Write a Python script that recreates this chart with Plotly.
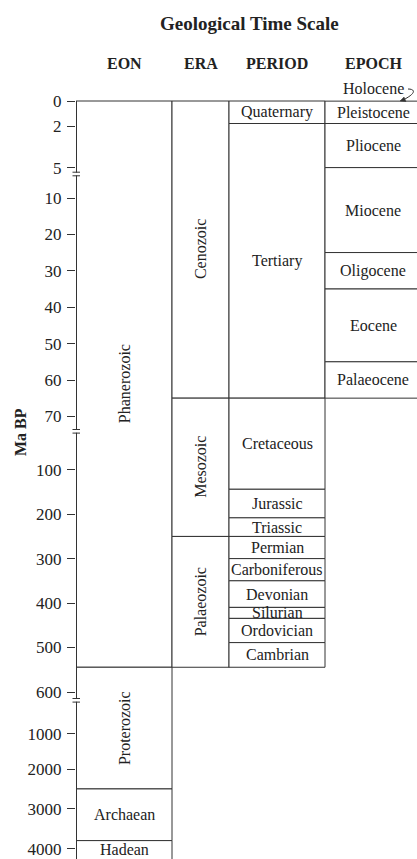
import numpy as np
import plotly.graph_objects as go

# ---------------- data (ages in Ma BP) ----------------
eon_names = ["Phanerozoic", "Proterozoic", "Archaean", "Hadean"]
eon_start = [0, 545, 2500, 3800]
eon_end = [545, 2500, 3800, 4600]

era_names = ["Cenozoic", "Mesozoic", "Palaeozoic"]
era_start = [0, 65, 250]
era_end = [65, 250, 545]

period_names = ["Quaternary", "Tertiary", "Cretaceous", "Jurassic", "Triassic",
                "Permian", "Carboniferous", "Devonian", "Silurian", "Ordovician", "Cambrian"]
period_start = [0, 1.8, 65, 144, 208, 250, 300, 350, 410, 435, 490]
period_end = [1.8, 65, 144, 208, 250, 300, 350, 410, 435, 490, 545]

epoch_names = ["Pleistocene", "Pliocene", "Miocene", "Oligocene", "Eocene", "Palaeocene"]
epoch_start = [0.01, 1.8, 5, 25, 35, 55]
epoch_end = [1.8, 5, 25, 35, 55, 65]

holocene_name = "Holocene"
holocene_start = 0
holocene_end = 0.01

tick_values = [0, 2, 5, 10, 20, 30, 40, 50, 60, 70, 100, 200, 300, 400, 500,
               600, 1000, 2000, 3000, 4000]
tick_labels = [str(v) for v in tick_values]

column_names = ["EON", "ERA", "PERIOD", "EPOCH"]

# ---------------- broken (piecewise) axis scale ----------------
SCALE_MA = tick_values
SCALE_POS = [0, 25, 66.6, 97, 133.3, 169.8, 206.2, 242.6, 279, 315.3,
             368.6, 413.3, 457.6, 502, 546, 591, 632.6, 668.3, 707.6, 747.6]
BREAK_POS = [73.0, 330.3, 599.3]


def scale(ma):
    ma = np.asarray(ma, dtype=float)
    out = np.interp(ma, SCALE_MA, SCALE_POS)
    slope = (SCALE_POS[-1] - SCALE_POS[-2]) / (SCALE_MA[-1] - SCALE_MA[-2])
    out = np.where(ma > SCALE_MA[-1], SCALE_POS[-1] + (ma - SCALE_MA[-1]) * slope, out)
    return out


# ---------------- layout constants ----------------
COL_WIDTHS = [96, 57, 96, 96]
COL_LEFT = np.concatenate([[0], np.cumsum(COL_WIDTHS)[:-1]])
COL_CENTER = COL_LEFT + np.array(COL_WIDTHS) / 2

W, H = 417, 859
ML, MT = 76, 99
PLOT_W, PLOT_H = W - ML, H - MT
Y_RANGE = [PLOT_H - 2, -2]

SERIF = "Liberation Serif, Times New Roman, serif"
INK = "#222222"
LINE = "#333333"

fig = go.Figure()

columns = [
    (eon_names, eon_start, eon_end, [True, True, False, False]),
    (era_names, era_start, era_end, [True, True, True]),
    (period_names, period_start, period_end, [False] * len(period_names)),
    (epoch_names, epoch_start, epoch_end, [False] * len(epoch_names)),
]

annotations = []
for ci, (names, starts, ends, rotated) in enumerate(columns):
    top = scale(starts)
    bot = scale(ends)
    fig.add_trace(go.Bar(
        x=[COL_CENTER[ci]] * len(names),
        base=top,
        y=bot - top,
        width=[COL_WIDTHS[ci]] * len(names),
        marker=dict(color="white", line=dict(color=LINE, width=1)),
        hoverinfo="skip",
        showlegend=False,
    ))
    for name, t, b, rot in zip(names, top, bot, rotated):
        # label centred on the visible part of the box
        b_vis = min(b, Y_RANGE[0])
        annotations.append(dict(
            x=COL_CENTER[ci], y=(t + b_vis) / 2,
            xref="x", yref="y",
            text=name, showarrow=False, textangle=-90 if rot else 0,
            font=dict(family=SERIF, size=16, color=INK),
            xanchor="center", yanchor="middle",
        ))

# column headers
for ci, name in enumerate(column_names):
    annotations.append(dict(
        x=COL_CENTER[ci], y=1, xref="x", yref="paper", yshift=MT - 63,
        text=f"<b>{name}</b>", showarrow=False,
        font=dict(family=SERIF, size=16, color=INK),
        xanchor="center", yanchor="middle",
    ))

# title
annotations.append(dict(
    x=(249 - ML) / PLOT_W, y=1, xref="paper", yref="paper", yshift=MT - 23,
    text="<b>Geological Time Scale</b>", showarrow=False,
    font=dict(family=SERIF, size=19, color=INK),
    xanchor="center", yanchor="middle",
))

# axis title
annotations.append(dict(
    x=0, xshift=20 - ML, y=1 - (432 - MT) / PLOT_H, xref="paper", yref="paper",
    text="<b>Ma BP</b>", showarrow=False, textangle=-90,
    font=dict(family=SERIF, size=16, color=INK),
    xanchor="center", yanchor="middle",
))

# Holocene label above the epoch column
annotations.append(dict(
    x=COL_CENTER[3], y=1, xref="x", yref="paper", yshift=MT - 88.5,
    text=holocene_name, showarrow=False,
    font=dict(family=SERIF, size=16, color=INK),
    xanchor="center", yanchor="middle",
))

shapes = []
# y axis line
shapes.append(dict(type="line", xref="paper", xsizemode="pixel", xanchor=0,
                   x0=0.5, x1=0.5, yref="y", y0=0, y1=Y_RANGE[0],
                   line=dict(color=LINE, width=1), layer="above"))
# axis breaks
for b in BREAK_POS:
    shapes.append(dict(type="rect", xref="paper", xsizemode="pixel", xanchor=0,
                       x0=-2, x1=3, yref="y", y0=b - 1.4, y1=b + 1.4,
                       fillcolor="white", line=dict(width=0), layer="above"))
    for dy in (-1.8, 1.8):
        shapes.append(dict(type="line", xref="paper", xsizemode="pixel", xanchor=0,
                           x0=-3.5, x1=4, yref="y", y0=b + dy, y1=b + dy,
                           line=dict(color=LINE, width=1), layer="above"))

# curved Holocene arrow (pointing at the top of the epoch column)
head_x = float(COL_LEFT[3] + COL_WIDTHS[3] - 21)
shapes.append(dict(type="path", xref="x", xsizemode="pixel", xanchor=head_x,
                   yref="paper", ysizemode="pixel", yanchor=1,
                   path="M 8,10 C 15,10 17,6 3,-1",
                   line=dict(color=LINE, width=1), layer="above"))
shapes.append(dict(type="path", xref="x", xsizemode="pixel", xanchor=head_x,
                   yref="paper", ysizemode="pixel", yanchor=1,
                   path="M 0,-2 L 6,-2.5 L 4,2 Z",
                   fillcolor=LINE, line=dict(color=LINE, width=0.5), layer="above"))

fig.update_layout(
    width=W, height=H,
    margin=dict(l=ML, r=0, t=MT, b=0, pad=0),
    paper_bgcolor="white", plot_bgcolor="white",
    barmode="overlay",
    showlegend=False,
    xaxis=dict(range=[0, PLOT_W], visible=False, fixedrange=True),
    yaxis=dict(
        range=Y_RANGE,
        tickmode="array",
        tickvals=scale(tick_values),
        ticktext=tick_labels,
        ticks="outside", ticklen=8, tickwidth=1, tickcolor=LINE,
        ticklabelstandoff=2,
        tickfont=dict(family=SERIF, size=17, color=INK),
        showgrid=False, zeroline=False, showline=False, fixedrange=True,
    ),
    annotations=annotations,
    shapes=shapes,
)

fig.write_html(
    "out.html",
    config={"displayModeBar": False, "staticPlot": True},
    post_script="document.body.style.margin='0';document.body.style.overflow='hidden';",
)
